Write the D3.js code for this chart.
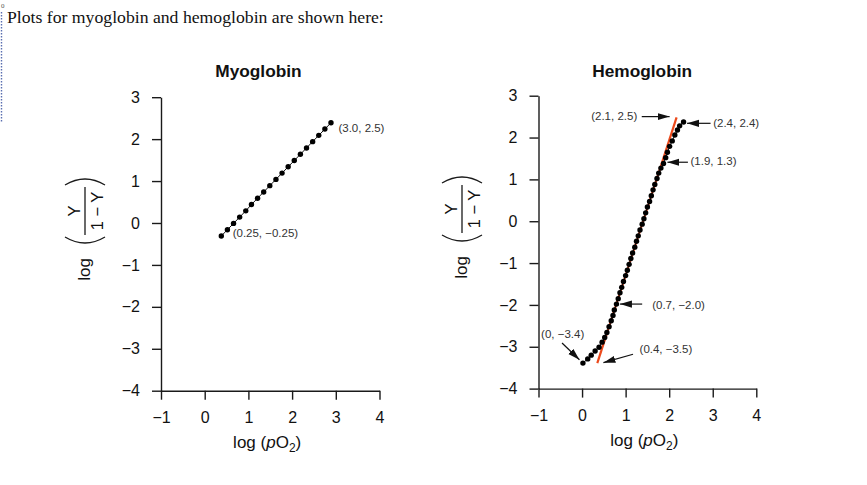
<!DOCTYPE html>
<html><head><meta charset="utf-8">
<script src="https://cdn.jsdelivr.net/npm/d3@7"></script>
<style>body{margin:0;background:#fff} svg{display:block}</style>
</head><body><svg id="c" width="867" height="485"></svg>
<script>
// ---- data ----
const xTicks = [-1, 0, 1, 2, 3, 4];
const yTicks = [-4, -3, -2, -1, 0, 1, 2, 3];

const myoX = [0.38, 0.52, 0.66, 0.80, 0.94, 1.07, 1.21, 1.35, 1.49, 1.63, 1.77, 1.91, 2.05, 2.19, 2.33, 2.47, 2.61, 2.75, 2.89];
const myoY = [-0.31, -0.16, -0.01, 0.14, 0.29, 0.44, 0.59, 0.74, 0.89, 1.04, 1.19, 1.34, 1.49, 1.64, 1.79, 1.94, 2.09, 2.24, 2.39];

const hemoX = [0.02, 0.13, 0.21, 0.30, 0.39, 0.46, 0.52, 0.57, 0.62, 0.67, 0.71,
  0.74, 0.79, 0.83, 0.87, 0.91, 0.95, 1.00, 1.04, 1.08, 1.12, 1.16, 1.21, 1.25, 1.29, 1.33, 1.38,
  1.42, 1.46, 1.50, 1.55, 1.59, 1.63, 1.67, 1.72, 1.76, 1.81,
  1.87, 1.92, 1.96, 2.01, 2.07, 2.13, 2.19, 2.24, 2.33];
const hemoY = [-3.39, -3.29, -3.20, -3.10, -3.01, -2.89, -2.78, -2.66, -2.52, -2.38, -2.25,
  -2.12, -1.98, -1.85, -1.71, -1.58, -1.44, -1.30, -1.17, -1.03, -0.89, -0.76, -0.62, -0.48, -0.35, -0.21, -0.07,
  0.06, 0.20, 0.34, 0.47, 0.61, 0.75, 0.88, 1.02, 1.15, 1.27,
  1.38, 1.52, 1.65, 1.79, 1.92, 2.06, 2.18, 2.28, 2.37];

const hillFitX = [0.35, 2.17];
const hillFitY = [-3.39, 2.48];

const myoNoteText = ["(3.0, 2.5)", "(0.25, \u22120.25)"];
const myoNoteX = [3.06, 0.64];
const myoNoteY = [2.27, -0.23];

const hemoNoteText = ["(2.1, 2.5)", "(2.4, 2.4)", "(1.9, 1.3)", "(0.7, \u22122.0)", "(0, \u22123.4)", "(0.4, \u22123.5)"];
const hemoNoteX = [0.21, 3.01, 2.49, 1.61, -0.94, 1.32];
const hemoNoteY = [2.51, 2.34, 1.43, -1.99, -2.69, -3.06];
const hemoArrowFromX = [1.37, 2.95, 2.43, 1.38, -0.46, 1.17];
const hemoArrowFromY = [2.50, 2.34, 1.41, -1.98, -2.91, -3.18];
const hemoArrowToX = [2.01, 2.41, 1.96, 0.87, -0.06, 0.49];
const hemoArrowToY = [2.50, 2.34, 1.41, -1.98, -3.31, -3.38];

// ---- drawing ----
const svg = d3.select("#c");
const SANS = "'Liberation Sans', Arial, Helvetica, sans-serif";
const INK = "#1a1a1a";

svg.append("defs").append("marker")
  .attr("id", "ah").attr("viewBox", "0 -4 12 8").attr("refX", 12).attr("refY", 0)
  .attr("markerUnits", "userSpaceOnUse").attr("markerWidth", 12).attr("markerHeight", 8)
  .attr("orient", "auto")
  .append("path").attr("d", "M0,-3.6L12,0L0,3.6Z").attr("fill", "#111");

// header
svg.append("text").attr("x", 7).attr("y", 22.5)
  .attr("font-family", "'Liberation Serif', 'Times New Roman', serif").attr("font-size", 17.7)
  .attr("fill", "#111").text("Plots for myoglobin and hemoglobin are shown here:");
svg.append("text").attr("x", 1).attr("y", 8).attr("font-family", "'Liberation Serif', serif")
  .attr("font-size", 7).attr("fill", "#555").text("0");
svg.append("line").attr("x1", 1.5).attr("x2", 1.5).attr("y1", 12).attr("y2", 122)
  .attr("stroke", "#5a6fb0").attr("stroke-width", 1.4).attr("stroke-dasharray", "1.5,1.5");

const panels = [
  { title: "Myoglobin", titleAt: 1.23, xr: [161, 379.5], yr: [390.7, 97.2], lab: [85, 211],
    xs: myoX, ys: myoY, fit: false, nt: myoNoteText, nx: myoNoteX, ny: myoNoteY },
  { title: "Hemoglobin", titleAt: 1.38, xr: [538.5, 756.3], yr: [388.6, 95.7], lab: [462, 209],
    xs: hemoX, ys: hemoY, fit: true, nt: hemoNoteText, nx: hemoNoteX, ny: hemoNoteY }
];

panels.forEach(p => {
  const x = d3.scaleLinear().domain([-1, 4]).range(p.xr);
  const y = d3.scaleLinear().domain([-4, 3]).range(p.yr);
  const g = svg.append("g");

  // axes
  const xa = g.append("g").attr("transform", `translate(0,${y(-4)})`)
    .call(d3.axisBottom(x).tickValues(xTicks).tickSize(9).tickSizeOuter(0).tickPadding(12)
      .tickFormat(d => d < 0 ? "\u2212" + Math.abs(d) : d));
  const ya = g.append("g").attr("transform", `translate(${x(-1)},0)`)
    .call(d3.axisLeft(y).tickValues(yTicks).tickSize(9).tickSizeOuter(0).tickPadding(12)
      .tickFormat(d => d < 0 ? "\u2212" + Math.abs(d) : d));
  [xa, ya].forEach(a => {
    a.selectAll("path,line").attr("stroke", INK).attr("stroke-width", 1.4);
    a.selectAll("text").attr("font-family", SANS).attr("font-size", 16).attr("fill", "#111");
  });

  // title
  g.append("text").attr("x", x(p.titleAt)).attr("y", 76.5).attr("text-anchor", "middle")
    .attr("font-family", SANS).attr("font-weight", "bold").attr("font-size", 17.3)
    .attr("fill", "#111").text(p.title);

  // x title
  const xt = g.append("text").attr("x", x(1.43)).attr("y", y(-4) + 57).attr("text-anchor", "middle")
    .attr("font-family", SANS).attr("font-size", 17).attr("fill", "#111");
  xt.append("tspan").text("log (");
  xt.append("tspan").attr("font-style", "italic").text("p");
  xt.append("tspan").text("O");
  xt.append("tspan").attr("font-size", 12).attr("dy", 4).text("2");
  xt.append("tspan").attr("dy", -4).text(")");

  // y title (rotated)
  const lg = g.append("g").attr("transform", `translate(${p.lab[0]},${p.lab[1]}) rotate(-90)`)
    .attr("font-family", SANS).attr("fill", "#111");
  lg.append("text").attr("x", -47).attr("y", 5).attr("text-anchor", "end").attr("font-size", 17).text("log");
  lg.append("path").attr("d", "M-26,-20Q-38,0 -26,20").attr("fill", "none").attr("stroke", INK).attr("stroke-width", 1.3);
  lg.append("path").attr("d", "M26,-20Q38,0 26,20").attr("fill", "none").attr("stroke", INK).attr("stroke-width", 1.3);
  lg.append("line").attr("x1", -24).attr("x2", 24).attr("y1", 0).attr("y2", 0).attr("stroke", INK).attr("stroke-width", 1.3);
  lg.append("text").attr("x", 0).attr("y", -5).attr("text-anchor", "middle").attr("font-size", 16.5).text("Y");
  lg.append("text").attr("x", 0).attr("y", 18).attr("text-anchor", "middle").attr("font-size", 16.5).text("1 \u2212 Y");

  // fit line
  if (p.fit) {
    g.append("line").attr("x1", x(hillFitX[0])).attr("y1", y(hillFitY[0]))
      .attr("x2", x(hillFitX[1])).attr("y2", y(hillFitY[1]))
      .attr("stroke", "#ec4a1c").attr("stroke-width", 2.2);
  }

  // data
  const pts = p.xs.map((v, i) => [v, p.ys[i]]);
  g.append("path").datum(pts).attr("fill", "none").attr("stroke", "#111").attr("stroke-width", 1)
    .attr("d", d3.line().x(d => x(d[0])).y(d => y(d[1])));
  g.selectAll("circle.pt").data(pts).join("circle").attr("class", "pt")
    .attr("cx", d => x(d[0])).attr("cy", d => y(d[1])).attr("r", 2.7).attr("fill", "#000");

  // notes
  p.nt.forEach((t, i) => {
    g.append("text").attr("x", x(p.nx[i])).attr("y", y(p.ny[i])).attr("dy", "0.35em")
      .attr("font-family", SANS).attr("font-size", 11.5).attr("fill", "#333").text(t);
  });
  if (p.fit) {
    hemoArrowFromX.forEach((v, i) => {
      g.append("line").attr("x1", x(v)).attr("y1", y(hemoArrowFromY[i]))
        .attr("x2", x(hemoArrowToX[i])).attr("y2", y(hemoArrowToY[i]))
        .attr("stroke", "#111").attr("stroke-width", 1.2).attr("marker-end", "url(#ah)");
    });
  }
});
</script></body></html>
